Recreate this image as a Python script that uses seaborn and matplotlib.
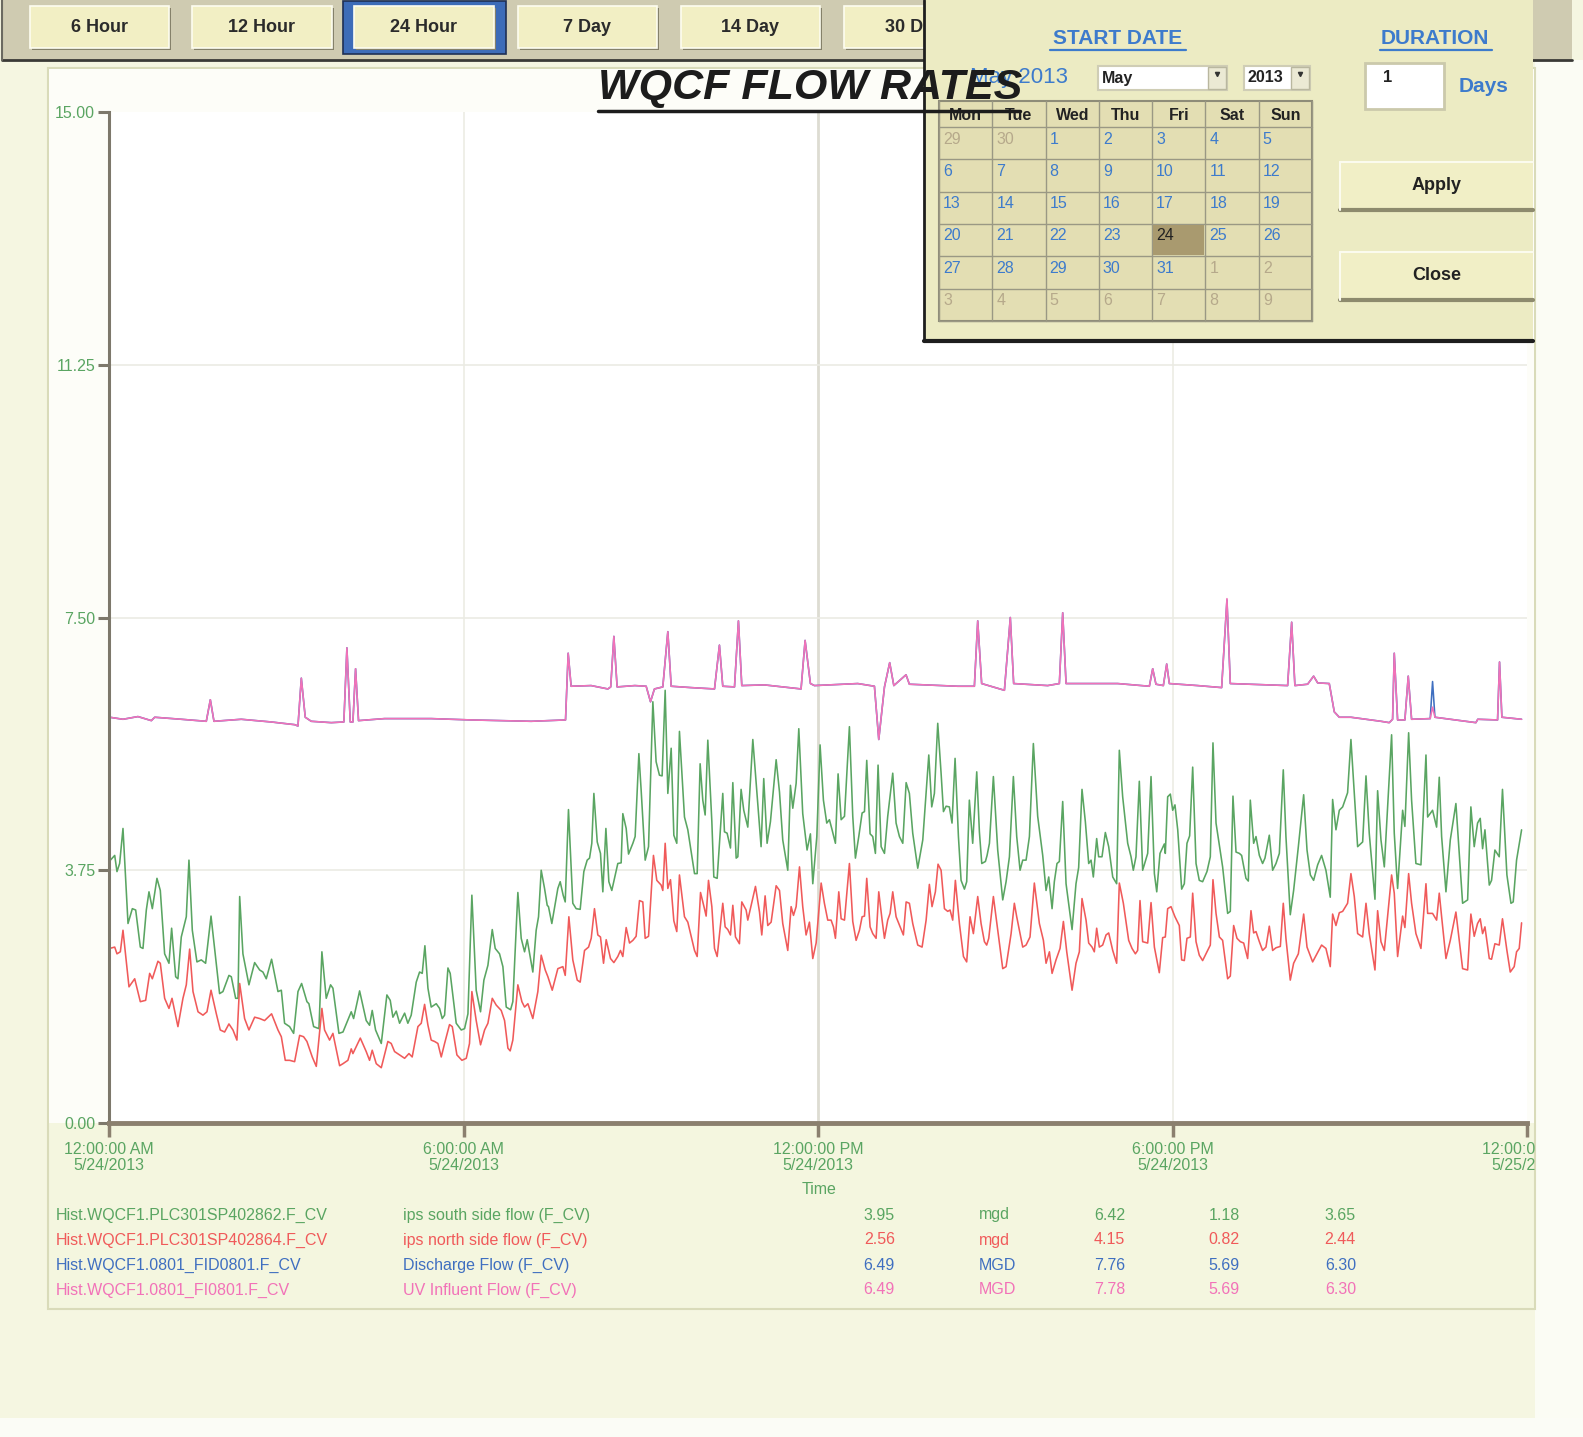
import matplotlib
matplotlib.use("Agg")
import matplotlib.pyplot as plt
from matplotlib.patches import Rectangle
import pandas as pd
import seaborn as sns

W, H = 1583, 1437

# ---- trend data: (minutes after 12:00 AM, mgd) ----
south_flow = [
    (0, 3.85), (1.4, 3.90), (5.8, 3.97), (8.1, 3.73), (10.8, 3.85), (14.2, 4.37), (19.3, 2.96), (23.7, 3.18),
    (27.1, 3.16), (31.8, 2.61), (34.5, 2.59), (37.9, 3.16), (40.6, 3.43), (44.0, 3.18), (48.7, 3.63), (52.1, 3.45),
    (56.5, 2.51), (60.9, 2.37), (63.6, 2.89), (67.7, 2.17), (70.0, 2.14), (73.4, 2.76), (78.5, 3.06), (81.2, 3.90),
    (84.6, 2.86), (89.3, 2.39), (93.7, 2.42), (98.1, 2.37), (103.6, 3.07), (112.3, 1.92), (115.7, 1.95), (121.8, 2.19),
    (124.2, 2.17), (128.6, 1.85), (131.0, 1.85), (132.7, 3.36), (136.0, 2.51), (142.1, 2.05), (147.9, 2.38), (153.0, 2.27),
    (156.3, 2.24), (159.7, 2.14), (165.1, 2.43), (171.6, 1.95), (175.0, 1.97), (178.3, 1.48), (183.4, 1.43), (187.5, 1.33),
    (191.9, 1.95), (195.6, 2.07), (201.0, 1.80), (203.0, 1.77), (207.8, 1.43), (213.2, 1.40), (216.2, 2.54), (220.6, 1.85),
    (225.0, 2.05), (227.4, 2.00), (233.5, 1.33), (237.6, 1.35), (246.0, 1.65), (248.4, 1.55), (254.5, 1.96), (261.2, 1.52),
    (264.6, 1.45), (267.3, 1.67), (270.7, 1.38), (276.5, 1.18), (282.2, 1.90), (285.6, 1.82), (288.3, 1.57), (291.7, 1.66),
    (295.1, 1.48), (300.2, 1.63), (303.5, 1.48), (306.9, 1.60), (312.0, 2.09), (315.4, 2.24), (318.1, 2.22), (320.8, 2.63),
    (323.9, 2.00), (327.2, 1.72), (332.3, 1.77), (335.7, 1.70), (338.4, 1.55), (340.8, 1.60), (344.2, 2.30), (346.5, 2.22),
    (352.6, 1.48), (357.7, 1.38), (361.1, 1.40), (364.5, 1.62), (368.5, 3.38), (372.9, 1.97), (377.3, 1.65), (380.7, 2.12),
    (384.8, 2.34), (389.2, 2.87), (392.2, 2.59), (396.6, 2.51), (400.0, 2.32), (403.4, 1.72), (407.8, 1.68), (410.1, 1.80),
    (415.2, 3.42), (418.6, 2.74), (422.0, 2.54), (424.7, 2.72), (430.4, 2.24), (433.8, 2.86), (436.2, 3.06), (438.9, 3.75),
    (442.3, 3.48), (445.0, 3.23), (446.3, 3.21), (449.7, 2.96), (455.8, 3.48), (458.2, 3.58), (461.2, 3.38), (463.3, 3.28),
    (466.6, 4.65), (471.0, 3.26), (474.4, 3.18), (478.5, 3.17), (482.2, 3.73), (485.6, 3.90), (488.0, 3.93), (490.3, 4.15),
    (492.4, 4.89), (495.8, 4.17), (499.1, 4.00), (501.5, 3.43), (504.6, 4.37), (507.6, 3.58), (510.6, 3.45), (516.7, 3.85),
    (520.1, 3.86), (521.8, 4.59), (525.2, 4.37), (527.6, 3.99), (532.0, 4.15), (534.3, 4.25), (538.1, 5.48), (540.4, 4.94),
    (544.5, 3.90), (547.9, 4.10), (552.3, 6.25), (555.6, 5.36), (559.0, 5.16), (561.7, 5.15), (564.8, 6.42), (567.5, 4.89),
    (570.9, 5.56), (573.6, 4.27), (576.6, 4.15), (579.3, 5.81), (584.4, 4.54), (587.8, 4.35), (594.6, 3.70), (597.3, 3.70),
    (600.3, 5.33), (603.0, 4.79), (605.4, 4.57), (608.1, 5.68), (612.2, 4.47), (614.2, 3.65), (617.6, 3.63), (623.3, 4.89),
    (625.0, 4.32), (627.7, 4.30), (631.1, 4.08), (633.5, 5.05), (636.9, 3.93), (638.6, 3.95), (641.9, 4.95), (644.6, 4.64),
    (648.7, 4.39), (653.8, 5.69), (657.2, 5.04), (662.2, 4.10), (664.9, 5.11), (668.3, 4.15), (671.7, 4.47), (677.5, 5.39),
    (680.9, 4.91), (684.2, 4.20), (689.3, 3.75), (692.0, 5.01), (694.4, 4.67), (697.8, 5.04), (700.5, 5.85), (704.5, 4.59),
    (708.9, 4.05), (712.3, 4.29), (714.7, 3.55), (718.8, 4.25), (722.1, 5.61), (725.5, 4.79), (728.9, 4.45), (731.6, 4.50),
    (734.3, 4.35), (737.7, 4.15), (740.4, 5.18), (743.5, 4.50), (746.9, 4.55), (751.9, 5.88), (755.3, 4.55), (758.0, 3.93),
    (761.4, 4.25), (764.8, 4.60), (767.2, 4.62), (769.5, 5.38), (772.9, 4.29), (775.6, 4.25), (778.3, 4.00), (781.0, 5.31),
    (784.1, 4.10), (787.5, 4.00), (790.8, 4.55), (795.9, 5.19), (799.3, 4.45), (802.7, 4.25), (806.1, 4.15), (809.5, 5.05),
    (812.8, 4.89), (816.2, 4.30), (821.3, 3.78), (826.4, 4.20), (832.5, 5.46), (835.5, 4.69), (838.2, 4.89), (841.6, 5.93),
    (845.0, 5.19), (847.4, 4.62), (850.1, 4.70), (853.4, 4.69), (856.1, 4.45), (859.2, 5.41), (862.6, 4.25), (865.3, 3.60),
    (868.7, 3.47), (871.0, 3.58), (873.7, 4.79), (877.1, 4.15), (881.2, 5.21), (883.9, 4.32), (886.3, 3.85), (890.0, 3.88),
    (891.7, 3.97), (894.1, 4.15), (898.1, 5.14), (902.5, 4.05), (907.6, 3.31), (911.0, 3.58), (914.4, 3.95), (918.4, 5.14),
    (921.8, 4.25), (925.2, 3.75), (927.9, 3.90), (931.3, 3.90), (934.7, 4.25), (938.7, 5.63), (943.1, 4.55), (948.2, 3.97),
    (951.6, 3.45), (954.3, 3.65), (957.7, 3.18), (960.0, 3.58), (962.7, 3.85), (965.1, 3.88), (968.5, 4.77), (971.9, 3.55),
    (978.0, 2.87), (982.0, 3.55), (984.7, 3.79), (988.1, 4.95), (991.5, 4.47), (994.9, 3.85), (997.3, 3.90), (999.6, 3.65),
    (1003.0, 4.22), (1005.0, 3.95), (1008.4, 3.95), (1011.8, 4.31), (1015.2, 4.10), (1019.3, 3.65), (1023.3, 3.55),
    (1026.0, 5.53), (1029.4, 4.84), (1034.5, 4.15), (1037.9, 3.95), (1040.2, 3.75), (1042.9, 3.95), (1046.3, 5.07),
    (1049.7, 3.75), (1054.8, 4.00), (1058.2, 5.14), (1061.6, 3.70), (1064.0, 3.43), (1067.3, 4.00), (1071.7, 4.14),
    (1072.7, 4.00), (1075.1, 4.84), (1077.8, 4.88), (1080.2, 4.64), (1082.5, 4.72), (1085.3, 4.35), (1089.3, 3.47),
    (1092.0, 3.55), (1094.7, 4.15), (1097.4, 4.26), (1100.5, 5.28), (1103.9, 3.85), (1107.2, 3.60), (1110.6, 3.58),
    (1115.0, 3.73), (1118.4, 3.95), (1121.1, 5.64), (1124.2, 4.45), (1127.6, 4.12), (1130.9, 3.80), (1136.0, 3.11),
    (1138.7, 3.14), (1141.4, 4.85), (1144.5, 4.02), (1147.9, 4.00), (1150.2, 3.97), (1154.6, 3.63), (1157.0, 3.59),
    (1159.0, 4.79), (1162.4, 4.15), (1164.8, 4.25), (1168.2, 3.97), (1171.5, 3.85), (1173.9, 3.93), (1178.3, 4.27),
    (1181.7, 3.75), (1185.1, 3.85), (1188.5, 4.00), (1192.5, 5.24), (1195.2, 4.25), (1199.6, 3.09), (1203.0, 3.45),
    (1207.8, 4.10), (1213.2, 4.87), (1216.6, 4.05), (1220.0, 3.68), (1223.3, 3.60), (1227.4, 3.83), (1231.4, 3.97),
    (1235.8, 3.75), (1240.2, 3.35), (1242.6, 4.80), (1246.0, 4.35), (1249.4, 4.64), (1252.8, 4.69), (1257.8, 4.90),
    (1261.2, 5.69), (1264.6, 4.89), (1268.0, 4.10), (1273.1, 4.17), (1276.5, 5.15), (1279.8, 4.30), (1285.6, 3.32),
    (1288.3, 4.93), (1291.7, 4.20), (1295.1, 3.80), (1302.5, 5.76), (1305.2, 4.30), (1308.6, 3.48), (1313.7, 4.64),
    (1316.0, 4.40), (1319.8, 5.79), (1322.8, 4.79), (1327.2, 3.85), (1332.3, 3.83), (1337.4, 5.46), (1339.1, 4.54),
    (1344.1, 4.64), (1348.2, 4.39), (1350.9, 5.13), (1353.3, 4.25), (1357.7, 3.43), (1362.1, 4.20), (1367.8, 4.74),
    (1374.6, 3.26), (1379.7, 3.31), (1383.0, 4.69), (1386.4, 4.10), (1389.8, 4.45), (1392.5, 4.52), (1394.9, 4.07),
    (1397.3, 4.35), (1401.7, 3.53), (1404.0, 3.60), (1407.4, 4.05), (1411.8, 3.95), (1415.1, 4.95), (1419.6, 3.68),
    (1423.7, 3.26), (1426.0, 3.28), (1429.4, 3.90), (1434.5, 4.35),
]

north_flow = [
    (0.7, 2.59), (5.8, 2.61), (8.1, 2.51), (11.5, 2.54), (14.2, 2.86), (20.3, 2.02), (26.1, 2.14), (31.8, 1.80),
    (37.2, 1.82), (41.3, 2.22), (44.0, 2.14), (49.7, 2.40), (52.1, 2.37), (56.5, 1.85), (60.9, 1.70), (64.0, 1.85),
    (70.0, 1.43), (75.1, 1.85), (78.5, 2.05), (81.9, 2.58), (85.3, 1.95), (90.4, 1.65), (95.4, 1.60), (99.5, 1.65),
    (103.6, 1.97), (109.0, 1.62), (113.0, 1.38), (117.4, 1.35), (121.8, 1.47), (125.9, 1.38), (129.9, 1.23), (132.7, 2.07),
    (137.7, 1.55), (142.1, 1.38), (147.9, 1.57), (153.0, 1.55), (158.0, 1.52), (165.1, 1.62), (171.6, 1.38), (175.0, 1.28),
    (179.0, 0.93), (183.4, 0.93), (188.5, 0.91), (193.6, 1.30), (197.6, 1.28), (201.0, 1.21), (206.4, 0.98), (210.5, 0.84),
    (216.2, 1.70), (218.9, 1.38), (224.0, 1.23), (227.4, 1.33), (234.2, 0.85), (237.6, 0.88), (242.6, 0.93), (246.0, 1.10),
    (247.7, 1.03), (255.2, 1.26), (261.2, 1.06), (264.6, 0.93), (267.3, 1.08), (271.4, 0.88), (276.5, 0.82), (283.2, 1.21),
    (286.6, 1.18), (290.0, 1.06), (295.1, 1.01), (300.2, 0.96), (304.6, 1.03), (307.9, 0.98), (313.7, 1.43), (317.1, 1.48),
    (320.5, 1.76), (323.9, 1.45), (327.2, 1.23), (330.6, 1.21), (334.0, 1.18), (337.4, 0.98), (340.8, 1.18), (345.8, 1.46),
    (348.6, 1.43), (353.3, 1.01), (358.4, 0.93), (362.8, 0.96), (366.1, 1.18), (368.5, 1.95), (372.9, 1.52), (377.3, 1.16),
    (381.4, 1.38), (384.8, 1.48), (389.2, 1.85), (393.2, 1.75), (398.3, 1.67), (401.7, 1.52), (405.1, 1.11), (407.4, 1.07),
    (410.1, 1.23), (415.2, 2.05), (419.3, 1.80), (422.0, 1.72), (425.4, 1.77), (430.4, 1.55), (435.5, 1.95), (438.9, 2.49),
    (443.0, 2.27), (445.7, 2.17), (450.1, 1.97), (455.8, 2.29), (460.9, 2.32), (463.3, 2.19), (467.0, 3.06), (471.0, 2.42),
    (475.5, 2.12), (478.5, 2.09), (482.9, 2.56), (487.0, 2.61), (489.7, 2.74), (493.0, 3.18), (496.4, 2.79), (499.1, 2.76),
    (502.2, 2.37), (504.9, 2.72), (509.3, 2.44), (512.7, 2.38), (516.7, 2.47), (519.4, 2.56), (521.8, 2.47), (525.2, 2.90),
    (528.6, 2.67), (532.0, 2.71), (535.3, 2.77), (538.7, 3.30), (542.1, 3.28), (544.5, 2.74), (547.9, 2.77), (552.9, 3.97),
    (556.3, 3.60), (560.7, 3.53), (562.4, 3.45), (564.8, 4.15), (567.5, 3.48), (570.2, 3.61), (573.6, 3.00), (576.6, 2.84),
    (579.3, 3.68), (584.4, 3.06), (587.8, 2.98), (594.6, 2.56), (597.3, 2.47), (600.7, 3.42), (604.7, 3.18), (606.4, 3.07),
    (608.8, 3.60), (612.2, 3.21), (614.9, 2.59), (617.6, 2.47), (623.3, 3.26), (625.7, 2.91), (628.4, 2.87), (631.1, 2.79),
    (633.5, 3.23), (636.2, 2.76), (640.2, 2.66), (642.6, 3.28), (647.0, 3.16), (648.7, 3.01), (656.5, 3.51), (660.6, 3.13),
    (662.9, 2.79), (666.3, 3.37), (669.0, 2.93), (672.4, 2.98), (677.5, 3.52), (680.9, 3.45), (684.2, 2.96), (689.3, 2.56),
    (692.7, 3.21), (695.1, 3.08), (697.8, 3.21), (701.2, 3.80), (704.5, 3.21), (707.9, 2.79), (711.3, 2.98), (714.7, 2.44),
    (718.1, 2.67), (723.2, 3.56), (726.5, 3.26), (729.9, 3.01), (733.3, 3.01), (735.7, 2.91), (737.7, 2.74), (741.1, 3.43),
    (743.5, 3.03), (746.9, 3.01), (751.9, 3.85), (755.3, 2.99), (758.7, 2.71), (762.1, 2.86), (764.8, 3.06), (767.2, 3.07),
    (769.5, 3.63), (772.9, 2.91), (775.6, 2.81), (779.0, 2.74), (781.7, 3.43), (785.1, 3.01), (787.5, 2.74), (790.8, 3.01),
    (793.2, 3.11), (795.9, 3.43), (799.3, 3.06), (803.4, 2.91), (806.7, 2.79), (809.5, 3.28), (812.8, 3.26), (816.2, 2.96),
    (821.3, 2.64), (825.7, 2.61), (829.8, 3.01), (833.1, 3.54), (835.8, 3.21), (839.2, 3.43), (841.9, 3.84), (845.0, 3.75),
    (848.4, 3.18), (851.7, 3.14), (854.1, 3.16), (856.8, 3.01), (859.5, 3.60), (863.6, 2.96), (867.7, 2.47), (871.0, 2.39),
    (874.4, 3.06), (877.8, 2.81), (882.2, 3.36), (885.6, 2.96), (889.0, 2.69), (891.3, 2.64), (893.4, 2.74), (898.1, 3.36),
    (902.5, 2.86), (907.6, 2.29), (911.0, 2.32), (916.1, 2.81), (919.4, 3.26), (921.8, 3.06), (924.5, 2.86), (927.9, 2.61),
    (931.3, 2.64), (935.3, 2.76), (939.7, 3.56), (944.8, 2.96), (948.9, 2.71), (951.6, 2.37), (955.0, 2.54), (957.7, 2.22),
    (961.7, 2.42), (965.8, 2.59), (969.2, 2.99), (972.6, 2.54), (978.0, 1.97), (982.0, 2.37), (985.4, 2.54), (988.1, 3.33),
    (992.2, 3.01), (994.9, 2.67), (998.3, 2.61), (1000.6, 2.54), (1003.0, 2.89), (1005.7, 2.61), (1009.1, 2.64),
    (1012.5, 2.79), (1015.2, 2.82), (1019.3, 2.56), (1023.3, 2.37), (1026.0, 3.56), (1030.1, 3.26), (1035.5, 2.71),
    (1038.9, 2.59), (1042.3, 2.51), (1044.6, 2.56), (1047.0, 3.30), (1049.7, 2.69), (1054.8, 2.67), (1058.2, 3.27),
    (1061.6, 2.61), (1066.6, 2.23), (1070.0, 2.75), (1072.7, 2.76), (1075.1, 3.18), (1078.5, 3.21), (1082.5, 3.06),
    (1086.9, 2.93), (1089.3, 2.42), (1092.0, 2.41), (1094.7, 2.74), (1098.1, 2.76), (1100.5, 3.41), (1103.9, 2.69),
    (1107.2, 2.49), (1110.6, 2.41), (1115.0, 2.54), (1118.4, 2.64), (1121.1, 3.61), (1124.2, 3.11), (1127.6, 2.76),
    (1130.9, 2.71), (1136.0, 2.14), (1138.7, 2.18), (1142.1, 2.93), (1145.5, 2.74), (1148.9, 2.69), (1152.3, 2.67),
    (1156.3, 2.44), (1159.7, 3.15), (1162.4, 2.82), (1164.8, 2.84), (1168.2, 2.69), (1171.5, 2.56), (1174.9, 2.61),
    (1178.3, 2.92), (1181.7, 2.56), (1185.1, 2.60), (1189.5, 2.62), (1192.5, 3.26), (1195.2, 2.74), (1199.6, 2.12),
    (1203.0, 2.37), (1207.8, 2.51), (1213.2, 3.10), (1216.6, 2.61), (1222.3, 2.39), (1226.7, 2.51), (1231.4, 2.64),
    (1235.8, 2.59), (1240.2, 2.32), (1242.6, 3.10), (1246.0, 2.93), (1249.4, 3.12), (1252.8, 3.14), (1257.8, 3.26),
    (1261.2, 3.70), (1264.6, 3.36), (1268.0, 2.81), (1273.1, 2.76), (1276.5, 3.26), (1279.8, 2.81), (1285.6, 2.27),
    (1288.3, 3.15), (1291.7, 2.69), (1295.1, 2.56), (1302.5, 3.68), (1305.2, 3.41), (1308.6, 2.47), (1313.7, 3.07),
    (1316.0, 2.90), (1319.8, 3.70), (1322.8, 3.26), (1327.2, 2.81), (1332.3, 2.59), (1337.4, 3.55), (1339.1, 3.11),
    (1344.1, 3.11), (1348.2, 3.01), (1350.9, 3.41), (1353.3, 3.06), (1357.7, 2.44), (1362.1, 2.71), (1367.8, 3.13),
    (1374.6, 2.29), (1379.7, 2.27), (1383.0, 3.10), (1386.4, 2.77), (1389.8, 2.96), (1392.5, 3.03), (1394.9, 2.81),
    (1397.3, 2.91), (1401.7, 2.44), (1404.0, 2.43), (1407.4, 2.66), (1411.8, 2.64), (1415.1, 3.03), (1419.6, 2.56),
    (1423.0, 2.24), (1427.0, 2.32), (1429.4, 2.54), (1432.1, 2.59), (1434.5, 2.97),
]

uv_influent = [
    (0.7, 6.02), (14.2, 5.99), (29.4, 6.03), (43.0, 5.97), (46.4, 6.02), (73.4, 5.99), (98.8, 5.96), (102.9, 6.28),
    (106.6, 5.96), (134.3, 5.99), (164.8, 5.95), (188.5, 5.91), (191.9, 5.89), (195.3, 6.60), (199.3, 6.02), (205.4, 5.96),
    (225.7, 5.94), (238.5, 5.95), (241.6, 7.05), (245.0, 5.95), (247.7, 5.95), (250.4, 6.74), (253.4, 5.97), (279.8, 6.00),
    (327.2, 6.00), (367.8, 5.98), (428.7, 5.96), (463.6, 5.98), (466.3, 6.97), (469.3, 6.48), (489.6, 6.49), (506.6, 6.44),
    (509.5, 6.47), (512.7, 7.22), (516.0, 6.47), (534.0, 6.49), (545.5, 6.48), (549.9, 6.25), (553.9, 6.44), (562.4, 6.47),
    (567.5, 7.29), (570.9, 6.48), (591.0, 6.46), (614.9, 6.44), (619.9, 7.09), (623.3, 6.48), (635.2, 6.47), (639.2, 7.45),
    (642.6, 6.49), (665.6, 6.50), (702.8, 6.44), (706.9, 7.16), (712.3, 6.52), (716.4, 6.49), (760.4, 6.52), (777.3, 6.48),
    (781.7, 5.69), (787.5, 6.47), (792.8, 6.83), (797.0, 6.49), (809.4, 6.65), (812.8, 6.51), (861.9, 6.48), (878.8, 6.48),
    (882.2, 7.45), (886.2, 6.52), (909.3, 6.42), (915.3, 7.50), (918.7, 6.52), (953.3, 6.49), (965.1, 6.52), (968.5, 7.57),
    (971.9, 6.52), (1024.3, 6.52), (1056.5, 6.48), (1059.9, 6.74), (1063.2, 6.51), (1070.7, 6.49), (1074.1, 6.81),
    (1076.8, 6.52), (1105.5, 6.49), (1129.9, 6.46), (1135.3, 7.78), (1138.7, 6.52), (1196.9, 6.49), (1201.0, 7.43),
    (1204.3, 6.49), (1217.2, 6.51), (1223.3, 6.63), (1227.4, 6.53), (1239.2, 6.52), (1244.3, 6.10), (1249.4, 6.02),
    (1261.2, 6.02), (1291.7, 5.96), (1300.1, 5.94), (1303.5, 5.99), (1305.2, 6.97), (1308.6, 5.98), (1316.0, 5.98),
    (1319.4, 6.63), (1322.8, 5.99), (1341.7, 6.00), (1344.1, 6.17), (1346.5, 6.02), (1388.1, 5.94), (1390.0, 5.99),
    (1410.1, 5.98), (1412.1, 6.84), (1414.5, 6.02), (1434.5, 5.99),
]

# discharge follows the UV influent trace, it only shows at two samples
discharge = list(uv_influent)
discharge_diff = {1135.3: 7.76, 1344.1: 6.55}
discharge = [(t, discharge_diff.get(t, v)) for t, v in discharge]

y_ticks = [0, 3.75, 7.5, 11.25, 15]
y_labels = ["0.00", "3.75", "7.50", "11.25", "15.00"]
x_ticks = [0, 360, 720, 1080, 1440]
x_labels = ["12:00:00 AM\n5/24/2013", "6:00:00 AM\n5/24/2013", "12:00:00 PM\n5/24/2013",
            "6:00:00 PM\n5/24/2013", "12:00:00 AM\n5/25/2013"]

tags = ["Hist.WQCF1.PLC301SP402862.F_CV", "Hist.WQCF1.PLC301SP402864.F_CV",
        "Hist.WQCF1.0801_FID0801.F_CV", "Hist.WQCF1.0801_FI0801.F_CV"]
descs = ["ips south side flow (F_CV)", "ips north side flow (F_CV)",
         "Discharge Flow (F_CV)", "UV Influent Flow (F_CV)"]
units = ["mgd", "mgd", "MGD", "MGD"]
cur_vals = ["3.95", "2.56", "6.49", "6.49"]
max_vals = ["6.42", "4.15", "7.76", "7.78"]
min_vals = ["1.18", "0.82", "5.69", "5.69"]
avg_vals = ["3.65", "2.44", "6.30", "6.30"]

range_buttons = ["6 Hour", "12 Hour", "24 Hour", "7 Day", "14 Day", "30 Day"]
week_days = ["Mon", "Tue", "Wed", "Thu", "Fri", "Sat", "Sun"]
cal_days = [29, 30, 1, 2, 3, 4, 5, 6, 7, 8, 9, 10, 11, 12, 13, 14, 15, 16, 17, 18, 19,
            20, 21, 22, 23, 24, 25, 26, 27, 28, 29, 30, 31, 1, 2, 3, 4, 5, 6, 7, 8, 9]
cal_in_month = [False] * 2 + [True] * 31 + [False] * 9
selected_day = 24

GREEN = "#5aa562"
RED = "#f05a5a"
BLUE = "#3f6fc0"
PINK = "#f272b8"
UIBLUE = "#3d7bcc"

sns.set_theme(style="white")
plt.rcParams['font.family'] = ['Liberation Sans', 'DejaVu Sans']

fig = plt.figure(figsize=(W / 100, H / 100), dpi=100)
fig.patch.set_facecolor("#f5f6e1")

# background layer in pixel coordinates
bg = fig.add_axes([0, 0, 1, 1], zorder=0)
bg.set_xlim(0, W)
bg.set_ylim(H, 0)
bg.axis("off")
bg.add_patch(Rectangle((1535, 60), W - 1535, H - 60, fc="#fbfcf4", ec="none"))
bg.add_patch(Rectangle((0, 1418), W, H - 1418, fc="#fbfcf6", ec="none"))
bg.add_patch(Rectangle((48, 68), 1487, 1241, fc="#f4f6df", ec="#d9dbb9", lw=1.5))
bg.add_patch(Rectangle((49, 69), 1485, 1054, fc="#fdfdf8", ec="none"))

# chart
L, R, T, B = 109, 1527, 112, 1123
ax = fig.add_axes([L / W, 1 - B / H, (R - L) / W, (B - T) / H], zorder=1)
ax.set_facecolor("white")

for xv in [360, 1080]:
    ax.axvline(xv, color="#ececE4", lw=1.2, zorder=0)
ax.axvline(720, color="#dddcd2", lw=2, zorder=0)
for yv in [3.75, 7.5, 11.25]:
    ax.axhline(yv, color="#ebebe4", lw=1.2, zorder=0)

series = [(discharge, BLUE), (uv_influent, PINK), (south_flow, GREEN), (north_flow, RED)]
for pts, col in series:
    df = pd.DataFrame(pts, columns=["minute", "mgd"])
    sns.lineplot(data=df, x="minute", y="mgd", color=col, lw=1.15, estimator=None,
                 sort=False, legend=False, ax=ax)

ax.set_xlim(0, 1440)
ax.set_ylim(0, 15)
ax.set_xlabel("")
ax.set_ylabel("")
ax.set_yticks(y_ticks)
ax.set_yticklabels(y_labels)
ax.set_xticks(x_ticks)
ax.set_xticklabels(x_labels, linespacing=1.05)
ax.tick_params(axis="y", direction="out", length=8, width=2.2, color="#7d786b",
               labelcolor=GREEN, labelsize=11.5, pad=2, left=True)
ax.tick_params(axis="x", direction="out", length=10, width=2.5, color="#8b806f",
               labelcolor=GREEN, labelsize=11.5, pad=4, bottom=True)
for side in ["top", "right"]:
    ax.spines[side].set_visible(False)
ax.spines["left"].set_color("#7d786b")
ax.spines["left"].set_linewidth(2.2)
ax.spines["bottom"].set_color("#8b806f")
ax.spines["bottom"].set_linewidth(3.5)

# overlay layer for the window chrome
ov = fig.add_axes([0, 0, 1, 1], zorder=3)
ov.set_xlim(0, W)
ov.set_ylim(H, 0)
ov.axis("off")

clip = Rectangle((0, 0), 1535, H, transform=ov.transData, fc="none", ec="none")
ov.add_patch(clip)
for lbl in ax.get_xticklabels():
    lbl.set_clip_path(clip)
    lbl.set_clip_on(True)

ov.text(819, 1189, "Time", color=GREEN, fontsize=11.5, ha="center", va="center")

# legend table
row_y = [1215, 1240, 1265, 1290]
row_cols = [GREEN, RED, BLUE, PINK]
for i, y in enumerate(row_y):
    c = row_cols[i]
    ov.text(56, y, tags[i], color=c, fontsize=11.5, va="center")
    ov.text(403, y, descs[i], color=c, fontsize=11.5, va="center")
    ov.text(895, y, cur_vals[i], color=c, fontsize=11.5, va="center", ha="right")
    ov.text(979, y, units[i], color=c, fontsize=11.5, va="center")
    ov.text(1125, y, max_vals[i], color=c, fontsize=11.5, va="center", ha="right")
    ov.text(1240, y, min_vals[i], color=c, fontsize=11.5, va="center", ha="right")
    ov.text(1356, y, avg_vals[i], color=c, fontsize=11.5, va="center", ha="right")

# top button bar
ov.add_patch(Rectangle((2, 0), 1570, 60, fc="#cfcbb1", ec="none", zorder=1))
ov.plot([2, 1572], [60, 60], color="#3a3a36", lw=2, zorder=1.1)
ov.plot([2, 2], [0, 60], color="#6b6a60", lw=1.5, zorder=1.1)


def button(x0, y0, x1, y1, label, size=13):
    ov.add_patch(Rectangle((x0 + 2, y0 + 2), x1 - x0, y1 - y0, fc="#85816a", ec="none", zorder=2))
    ov.add_patch(Rectangle((x0, y0), x1 - x0, y1 - y0, fc="#f2efc4", ec="#fdfdf0", lw=1.2, zorder=2.1))
    ov.text((x0 + x1) / 2, (y0 + y1) / 2 + 1, label, ha="center", va="center", fontsize=size,
            fontweight="bold", color="#2b2b2b", zorder=2.2)


btn_x = [(30, 169), (192, 332), (354, 494), (518, 657), (681, 820), (844, 984)]
ov.add_patch(Rectangle((343, 1), 163, 53, fc="#3d6cb8", ec="#1e2f55", lw=1.2, zorder=1.9))
for (x0, x1), lab in zip(btn_x, range_buttons):
    button(x0, 6, x1, 48, lab)

# calendar popup
PX0, PX1, PY1 = 924, 1533, 341
ov.add_patch(Rectangle((PX0, 0), PX1 - PX0, PY1, fc="#ecebc3", ec="none", zorder=4))
ov.plot([PX0, PX0], [0, PY1], color="#1e1e1e", lw=2, zorder=4.1)
ov.plot([PX0, PX1], [PY1, PY1], color="#1e1e1e", lw=3, zorder=4.1)

ov.text(1118, 38, "START DATE", color=UIBLUE, fontsize=15, fontweight="bold",
        ha="center", va="center", zorder=5)
ov.plot([1050, 1186], [50, 50], color=UIBLUE, lw=1.6, zorder=5)
ov.text(1435, 38, "DURATION", color=UIBLUE, fontsize=15, fontweight="bold",
        ha="center", va="center", zorder=5)
ov.plot([1380, 1492], [50, 50], color=UIBLUE, lw=1.6, zorder=5)
ov.text(970, 78, "May 2013", color=UIBLUE, fontsize=16, ha="left", va="center", zorder=5)

for (x0, x1, txt) in [(1098, 1227, "May"), (1244, 1310, "2013")]:
    ov.add_patch(Rectangle((x0, 66), x1 - x0, 24, fc="white", ec="#cfcdb5", lw=1.5, zorder=5))
    ov.add_patch(Rectangle((x1 - 19, 67), 18, 22, fc="#ebe9d4", ec="#b9b79f", lw=1, zorder=5.1))
    ov.plot([x1 - 10], [74], marker="v", ms=3, color="#333333", zorder=5.2)
    ov.text(x0 + 4, 78, txt, color="#222222", fontsize=11.5, fontweight="bold", va="center", zorder=5.2)

CX0, CY0, CW, HH, RH = 939, 101, 53.3, 26, 32.3
ov.add_patch(Rectangle((CX0, CY0), CW * 7, HH + RH * 6, fc="#e3deb3", ec="#8e8c78", lw=1.5, zorder=5))
for c in range(8):
    ov.plot([CX0 + c * CW] * 2, [CY0, CY0 + HH + RH * 6], color="#9a9884", lw=1, zorder=5.1)
for r in range(7):
    ov.plot([CX0, CX0 + CW * 7], [CY0 + HH + r * RH] * 2, color="#9a9884", lw=1, zorder=5.1)
for c, wd in enumerate(week_days):
    ov.text(CX0 + (c + 0.5) * CW, CY0 + HH / 2 + 1, wd, color="#222222", fontsize=11.5,
            fontweight="bold", ha="center", va="center", zorder=5.3)
for k, (d, inm) in enumerate(zip(cal_days, cal_in_month)):
    r, c = divmod(k, 7)
    x0 = CX0 + c * CW
    y0 = CY0 + HH + r * RH
    col = UIBLUE if inm else "#b6a98b"
    if inm and d == selected_day:
        ov.add_patch(Rectangle((x0 + 1, y0 + 1), CW - 2, RH - 2, fc="#a99a6f", ec="none", zorder=5.2))
        col = "#222222"
    ov.text(x0 + 4, y0 + 12, str(d), color=col, fontsize=11.5, ha="left", va="center", zorder=5.3)

ov.add_patch(Rectangle((1365, 63), 79, 46, fc="white", ec="#cbc9ab", lw=2, zorder=5))
ov.text(1383, 78, "1", color="#222222", fontsize=12, fontweight="bold", va="center", zorder=5.2)
ov.text(1484, 86, "Days", color=UIBLUE, fontsize=15, fontweight="bold", ha="center", va="center", zorder=5)

for (y0, y1, lab) in [(162, 210, "Apply"), (252, 300, "Close")]:
    ov.add_patch(Rectangle((1340, y0), PX1 - 1340, y1 - y0, fc="#f1efc6", ec="none", zorder=5))
    ov.plot([1340, PX1], [y1, y1], color="#8d8a6d", lw=3, zorder=5.1)
    ov.plot([1340, 1340], [y0, y1], color="#fbfbee", lw=1.5, zorder=5.1)
    ov.plot([1340, PX1], [y0, y0], color="#fbfbee", lw=1.5, zorder=5.1)
    ov.text(1437, (y0 + y1) / 2, lab, color="#222222", fontsize=13, fontweight="bold",
            ha="center", va="center", zorder=5.2)

# title sits above the popup
ov.text(810, 88, "WQCF FLOW RATES", color="#1c1c1c", fontsize=31, fontweight="bold",
        style="italic", ha="center", va="center", zorder=8)
ov.plot([598, 1020], [111, 111], color="#1c1c1c", lw=2.5, zorder=8)

fig.savefig("out.png", dpi=100, facecolor=fig.get_facecolor())
